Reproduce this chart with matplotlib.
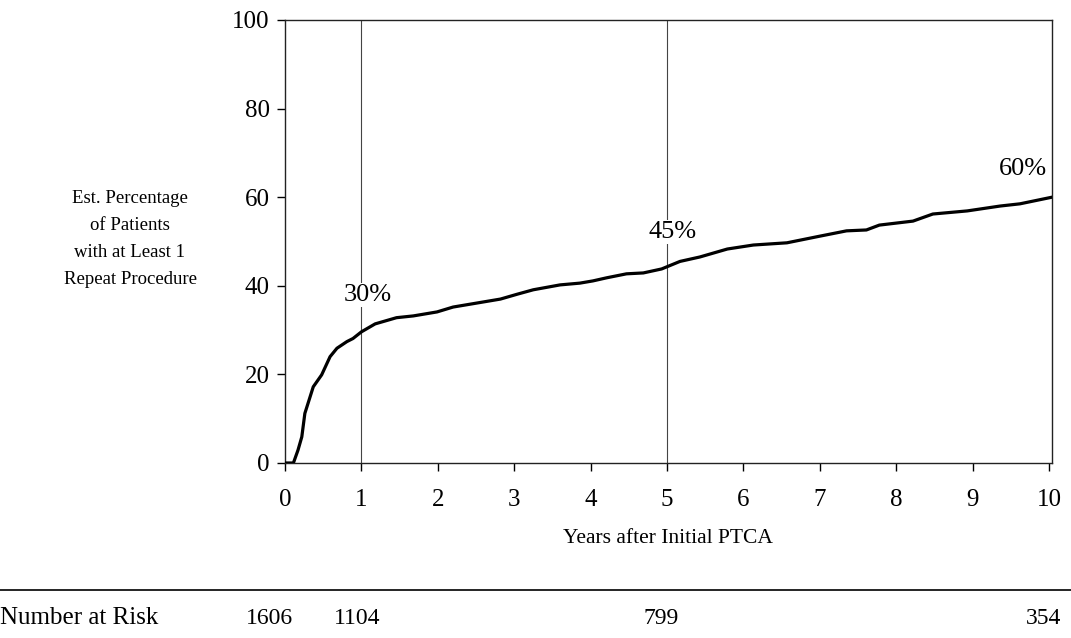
import numpy as np
import matplotlib.pyplot as plt

plt.rcParams['font.family'] = ['Liberation Serif', 'DejaVu Serif']

# cumulative curve
years = [0.0, 0.11, 0.17, 0.22, 0.26, 0.37, 0.48, 0.59, 0.68, 0.81, 0.89, 1.0,
         1.18, 1.46, 1.68, 1.99, 2.2, 2.51, 2.82, 3.04, 3.25, 3.6, 3.86, 4.03,
         4.21, 4.47, 4.69, 4.93, 5.17, 5.43, 5.79, 6.13, 6.57, 7.0, 7.35, 7.61,
         7.78, 8.22, 8.48, 8.93, 9.36, 9.62, 10.04]
pct = [0.0, 0.0, 2.9, 5.9, 11.2, 17.2, 19.9, 24.0, 25.9, 27.4, 28.1, 29.6,
       31.4, 32.8, 33.2, 34.1, 35.2, 36.1, 37.0, 38.1, 39.1, 40.2, 40.6, 41.1,
       41.8, 42.7, 42.9, 43.8, 45.5, 46.5, 48.3, 49.2, 49.7, 51.2, 52.4, 52.6,
       53.7, 54.6, 56.2, 56.9, 58.0, 58.5, 60.0]

mark_years = [1, 5, 10]
mark_labels = ['30%', '45%', '60%']
mark_label_y = [37.9, 52.1, 66.3]

risk_years = [0, 1, 5, 10]
risk_counts = ['1606', '1104', '799', '354']

fig = plt.figure(figsize=(10.71, 6.38), dpi=100)
ax = fig.add_axes([0.2661, 0.2743, 0.7162, 0.6944])

ax.plot(years, pct, color='black', linewidth=2.3, zorder=3)

for yr in mark_years[:2]:
    ax.axvline(yr, color='#444444', linewidth=0.8, zorder=1)

# percentage labels with white box so the guide lines break behind them
label_dx = [0.08, 0.07, -0.34]
for yr, lab, ly, dx in zip(mark_years, mark_labels, mark_label_y, label_dx):
    ax.text(yr + dx, ly, lab, ha='center', va='center', fontsize=19,
            bbox=dict(facecolor='white', edgecolor='none', pad=1), zorder=2)

ax.set_xlim(0, 10.04)
ax.set_ylim(0, 100)
ax.set_xticks(range(0, 11))
ax.set_yticks(range(0, 101, 20))
ax.tick_params(labelsize=18, length=6, width=1, direction='out')
ax.tick_params(axis='x', pad=13)
ax.tick_params(axis='y', pad=5)
for s in ax.spines.values():
    s.set_linewidth(1)
    s.set_color('#222222')

ax.set_xlabel('Years after Initial PTCA', fontsize=15.5)
ax.xaxis.set_label_coords(0.499, -0.17)
ax.xaxis.label.set_va('center')

fig.text(130 / 1071, 1 - 239 / 638,
         'Est. Percentage\nof Patients\nwith at Least 1\nRepeat Procedure',
         ha='center', va='center', fontsize=13.5, linespacing=1.75)

# number at risk table
fig.add_artist(plt.Line2D([0, 1], [1 - 590 / 638, 1 - 590 / 638],
                          color='black', linewidth=1.2))
row_y = 1 - 618 / 638
fig.text(0.0, row_y, 'Number at Risk', ha='left', va='center', fontsize=18)
risk_dx = [-0.2, -0.05, -0.08, -0.07]
for yr, n, dx in zip(risk_years, risk_counts, risk_dx):
    xf = ax.transData.transform((yr + dx, 0))[0] / fig.bbox.width
    fig.text(xf, row_y, n, ha='center', va='center', fontsize=17)

fig.savefig('out.png', dpi=100, facecolor='white')
